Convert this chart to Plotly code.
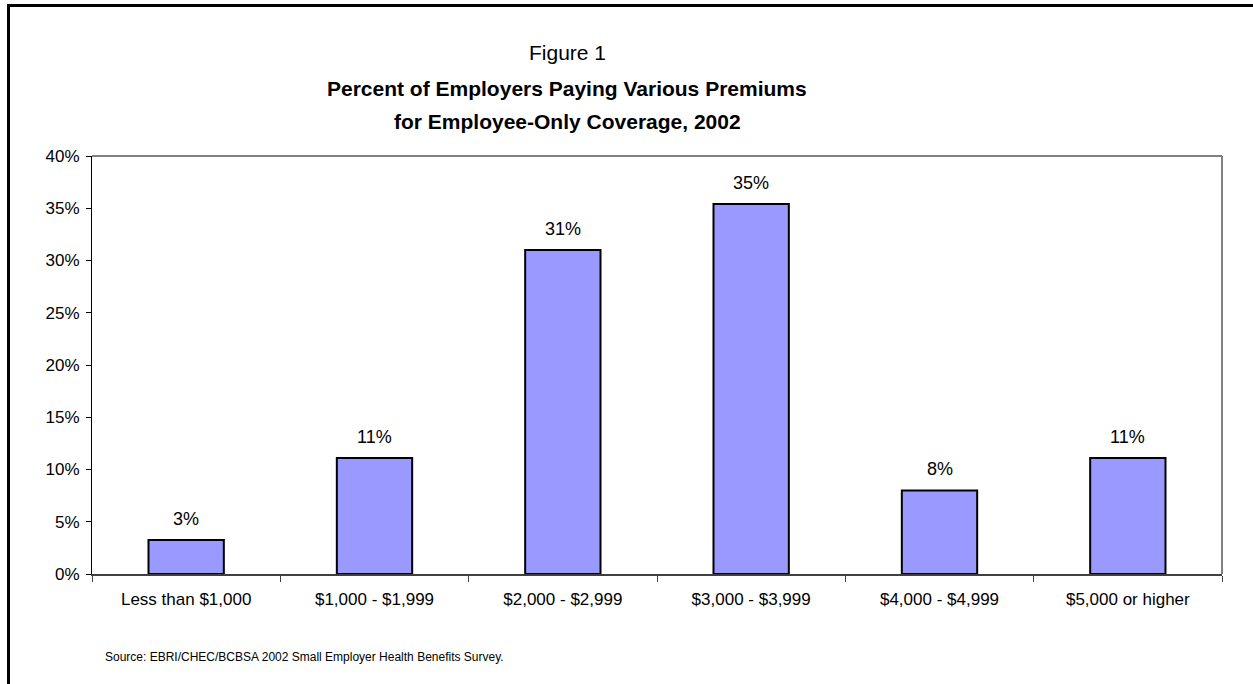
import plotly.graph_objects as go

categories = ["Less than $1,000", "$1,000 - $1,999", "$2,000 - $2,999",
              "$3,000 - $3,999", "$4,000 - $4,999", "$5,000 or higher"]
values = [3.25, 11.1, 31.0, 35.4, 8.0, 11.1]
labels = ["3%", "11%", "31%", "35%", "8%", "11%"]
y_ticks = [0, 5, 10, 15, 20, 25, 30, 35, 40]
y_ticktext = ["0%", "5%", "10%", "15%", "20%", "25%", "30%", "35%", "40%"]

title_top = "Figure 1"
title_l1 = "Percent of Employers Paying Various Premiums"
title_l2 = "for Employee-Only Coverage, 2002"
source = "Source: EBRI/CHEC/BCBSA 2002 Small Employer Health Benefits Survey."

W, H = 1253, 684
L, R, T, B = 92, 31, 156, 110
PW, PH = W - L - R, H - T - B
FONT = "Arial, Liberation Sans, sans-serif"


def px2x(px):
    return (px - L) / PW


def px2y(py):
    return (H - B - py) / PH


fig = go.Figure()
fig.add_trace(go.Bar(
    x=categories, y=values,
    marker=dict(color="#9999FF", line=dict(color="#000000", width=2)),
    width=0.4,
))

annotations = []
for c, v, t in zip(categories, values, labels):
    annotations.append(dict(x=c, y=v, xref="x", yref="y", text=t, showarrow=False,
                            yanchor="bottom", yshift=9,
                            font=dict(family=FONT, size=18, color="#000000")))

annotations += [
    dict(x=px2x(567), y=px2y(52), xref="paper", yref="paper", text=title_top,
         showarrow=False, xanchor="center", yanchor="middle",
         font=dict(family=FONT, size=21, color="#000000")),
    dict(x=px2x(567), y=px2y(88), xref="paper", yref="paper", text="<b>" + title_l1 + "</b>",
         showarrow=False, xanchor="center", yanchor="middle",
         font=dict(family=FONT, size=21, color="#000000")),
    dict(x=px2x(567), y=px2y(121), xref="paper", yref="paper", text="<b>" + title_l2 + "</b>",
         showarrow=False, xanchor="center", yanchor="middle",
         font=dict(family=FONT, size=21, color="#000000")),
    dict(x=px2x(103), y=px2y(657), xref="paper", yref="paper", text=source,
         showarrow=False, xanchor="left", yanchor="middle",
         font=dict(family=FONT, size=12, color="#000000")),
]

shapes = [
    # plot-area top and right border (gray)
    dict(type="line", xref="paper", yref="paper", x0=0, x1=1, y0=1, y1=1,
         line=dict(color="#808080", width=2)),
    dict(type="line", xref="paper", yref="paper", x0=1, x1=1, y0=0, y1=1,
         line=dict(color="#808080", width=2)),
    # outer black frame: only top and left edges visible
    dict(type="line", xref="paper", yref="paper",
         x0=px2x(7), x1=px2x(1260), y0=px2y(5.5), y1=px2y(5.5),
         line=dict(color="#000000", width=3), layer="above"),
    dict(type="line", xref="paper", yref="paper",
         x0=px2x(8.5), x1=px2x(8.5), y0=px2y(4), y1=px2y(700),
         line=dict(color="#000000", width=3), layer="above"),
]

fig.update_layout(
    width=W, height=H, autosize=False,
    margin=dict(l=L, r=R, t=T, b=B, pad=0),
    paper_bgcolor="#FFFFFF", plot_bgcolor="#FFFFFF",
    showlegend=False,
    bargap=0.6,
    annotations=annotations,
    shapes=shapes,
    font=dict(family=FONT, size=17, color="#000000"),
)
fig.update_xaxes(
    type="category", tickson="boundaries", ticks="outside", ticklen=6,
    tickcolor="#404040", tickwidth=1,
    showline=True, linecolor="#404040", linewidth=2,
    showgrid=False, tickfont=dict(family=FONT, size=17, color="#000000"),
    ticklabelstandoff=9,
)
fig.update_yaxes(
    range=[0, 40], tickmode="array", tickvals=y_ticks, ticktext=y_ticktext,
    ticks="outside", ticklen=5, tickcolor="#000000", tickwidth=1,
    showline=True, linecolor="#000000", linewidth=1,
    showgrid=False, zeroline=False,
    tickfont=dict(family=FONT, size=17, color="#000000"),
    ticklabelstandoff=3,
)

fig.write_html("out.html")
